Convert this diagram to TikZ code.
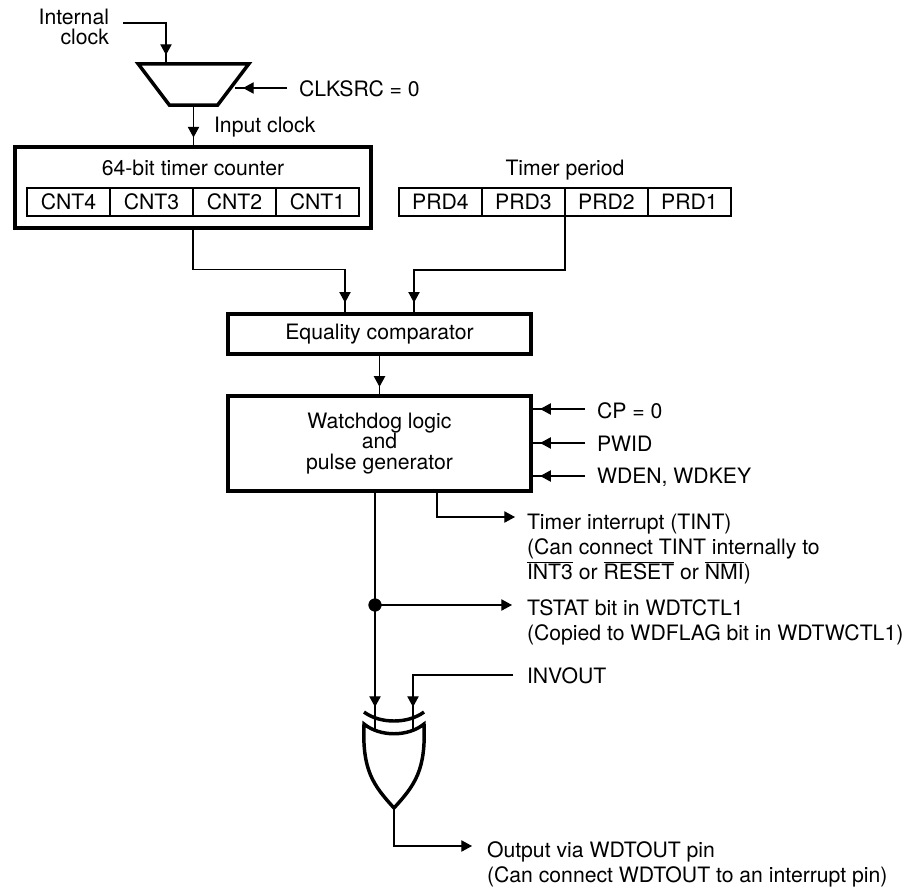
\documentclass[tikz,border=0pt]{standalone}
\usepackage{fontspec}
\setmainfont{TeX Gyre Heros}
\usepackage{tikz}
\usetikzlibrary{arrows.meta,positioning,shapes.geometric,decorations.markings}

\begin{document}
\begin{tikzpicture}[
  x=0.75pt, y=-0.75pt,
  every node/.style={font=\fontsize{15.9}{18.8}\selectfont, inner sep=0pt, outer sep=0pt},
  label/.style={anchor=west, align=left},
  tightlabel/.style={align=center, font=\fontsize{15.9}{15.4}\selectfont},
  bigbox/.style={draw, line width=2.6pt, align=center},
  cellbox/.style={draw, line width=1.5pt, minimum width=62.25pt, minimum height=21pt},
  gate/.style={line width=2.6pt, fill=white, miter limit=10},
  wire/.style={line width=0.85pt},
  outwire/.style={wire, -{Triangle[length=8pt,width=8.5pt]}},
  tipwire/.style={wire, postaction=decorate, decoration={markings, mark=at position -#1 with {\arrow{Triangle[length=8pt,width=8.5pt]}}}}
]
\useasboundingbox (0,0) rectangle (912,891);

\node[tightlabel, align=right, anchor=east] (clocklabel) at (109,27) {Internal\\clock};
\coordinate (clockstart) at (123,23);
\coordinate (muxin) at (166,63);
\node[draw, line width=2.6pt, trapezium, inner sep=3pt, trapezium stretches=true, shape border rotate=180, trapezium angle=57, minimum width=83pt, minimum height=31pt] (mux) at (193.5,84.5) {};
\coordinate (srcstart) at (287,88);
\coordinate (srcend) at (235,88);
\node[label] (srclabel) at (299,89) {CLKSRC = 0};
\node[label] (inputlabel) at (214,127) {Input clock};

\node[bigbox, minimum width=267pt, minimum height=61pt] (cntbox) at (193,187.5) {};
\node (cntlabel) at (193,168) {64-bit timer counter};
\node[cellbox] (cnt4) at (68.5,202) {CNT4};
\node[cellbox, right=0pt of cnt4] (cnt3) {CNT3};
\node[cellbox, right=0pt of cnt3] (cnt2) {CNT2};
\node[cellbox, right=0pt of cnt2] (cnt1) {CNT1};

\node (prdlabel) at (565,170) {Timer period};
\node[cellbox] (prd4) at (440.5,202) {PRD4};
\node[cellbox, right=0pt of prd4] (prd3) {PRD3};
\node[cellbox, right=0pt of prd3] (prd2) {PRD2};
\node[cellbox, right=0pt of prd2] (prd1) {PRD1};

\node[bigbox, minimum width=227pt, minimum height=30pt] (eqcomp) at (379.5,334) {Equality comparator};
\coordinate (eqleft) at (345,312);
\coordinate (eqright) at (414,312);

\node[bigbox, tightlabel, minimum width=227pt, minimum height=71pt] (wdlogic) at (379.5,443.5) {Watchdog logic\\and\\pulse generator};
\coordinate (cpstart) at (585,409);
\coordinate (pwidstart) at (585,443);
\coordinate (wdenstart) at (585,476);
\node[label] (cplabel) at (597,411) {CP = 0};
\node[label] (pwidlabel) at (597,444) {PWID};
\node[label] (wdenlabel) at (597,477) {WDEN, WDKEY};

\coordinate (tintstart) at (437,493);
\coordinate (tintend) at (515,517);
\node[label, anchor=north west] (tintlabel) at (527,514) {Timer interrupt (TINT)\\(Can connect TINT internally to\\$\overline{\hbox{INT3}}$ or $\overline{\hbox{RESET}}$ or $\overline{\hbox{NMI}}$)};

\coordinate (wdout) at (375,493);
\node[draw, fill, circle, minimum size=9.5pt] (tap) at (375,605) {};
\coordinate (tstatend) at (512,605);
\node[label, anchor=north west] (tstatlabel) at (527,600) {TSTAT bit in WDTCTL1\\(Copied to WDFLAG bit in WDTWCTL1)};

\coordinate (invstart) at (513,675);
\coordinate (xorleft) at (375,731);
\coordinate (xorright) at (413,731);
\node[label] (invlabel) at (527,676) {INVOUT};

\coordinate (xorout) at (394,808);
\coordinate (outend) at (472,846);
\node[label, anchor=north west] (outlabel) at (487,842) {Output via WDTOUT pin\\(Can connect WDTOUT to an interrupt pin)};

\draw[tipwire=6pt] (clockstart) -| (muxin);
\draw[tipwire=6pt] (srcstart) -- (srcend);
\draw[tipwire=7pt] (mux.south) -- (cntbox.north -| mux.south);
\draw[tipwire=7pt] (cntbox.south) -- ++(0,41) -| (eqleft);
\draw[tipwire=7pt] (prd2.south west) -- ++(0,54) -| (eqright);
\draw[tipwire=7pt] (eqcomp.south) -- (wdlogic.north -| eqcomp.south);
\draw[tipwire=7pt] (cpstart) -- (wdlogic.east |- cpstart);
\draw[tipwire=7pt] (pwidstart) -- (wdlogic.east |- pwidstart);
\draw[tipwire=7pt] (wdenstart) -- (wdlogic.east |- wdenstart);
\draw[outwire] (tintstart) |- (tintend);
\draw[wire] (wdout) -- (tap);
\draw[outwire] (tap) -- (tstatend);
\draw[tipwire=18pt] (tap) -- (xorleft);
\draw[tipwire=18pt] (invstart) -| (xorright);
\draw[outwire] (xorout) |- (outend);

\draw[gate] (364,724) .. controls (380,737) and (408,737) .. (424,724) .. controls (426,770) and (415,785) .. (394,808) .. controls (373,785) and (362,770) .. (364,724) -- cycle;
\draw[line width=2.6pt] (364,712) .. controls (380,724) and (408,724) .. (424,712);
\end{tikzpicture}
\end{document}
